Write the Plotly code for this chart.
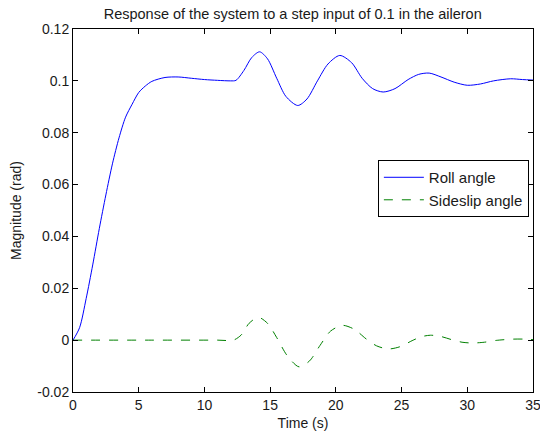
import plotly.graph_objects as go

# Roll angle (rad)
roll_t = [0, 0.5, 1, 1.5, 2, 2.5, 3, 3.5, 4, 4.5, 5, 5.5, 6, 7, 8, 9, 10, 11, 12, 12.4,
          13, 13.6, 14.2, 14.8, 15.5, 16.2, 17.1, 17.8, 18.6, 19.4, 20.3, 21.2, 22.0, 22.8,
          23.6, 24.5, 25.5, 26.3, 27.1, 28, 29, 30, 31, 32, 33.3, 34.2, 35]
roll_v = [0, 0.0048, 0.016, 0.029, 0.043, 0.056, 0.068, 0.078, 0.086, 0.091, 0.0955, 0.098,
          0.0998, 0.1013, 0.1015, 0.101, 0.1005, 0.1002, 0.1, 0.1002, 0.104, 0.109, 0.1112,
          0.1085, 0.101, 0.094, 0.0905, 0.093, 0.1, 0.1065, 0.1098, 0.107, 0.101, 0.097,
          0.0957, 0.097, 0.1005, 0.1025, 0.1030, 0.1015, 0.0995, 0.0983, 0.0988, 0.1,
          0.1008, 0.1005, 0.1003]

# Sideslip angle (rad)
side_t = [0, 6, 11, 12.2, 12.8, 13.4, 14.1, 14.8, 15.5, 16.3, 17.2, 18.0, 18.8, 19.6, 20.5,
          21.4, 22.3, 23.1, 24.0, 24.9, 25.8, 26.5, 27.2, 28.0, 28.8, 29.6, 30.4, 31.3,
          32.2, 33.5, 34.3, 35]
side_v = [0, 0, 0, 0, 0.002, 0.0065, 0.0088, 0.0065, 0.001, -0.006, -0.0103, -0.008, -0.002,
          0.0035, 0.0057, 0.0042, 0.0005, -0.0022, -0.0034, -0.0025, -0.0002, 0.0013, 0.0019,
          0.0014, 0.0002, -0.0008, -0.0011, -0.0008, -0.0001, 0.0004, 0.0004, 0.0002]

x_ticks = [0, 5, 10, 15, 20, 25, 30, 35]
y_ticks = [-0.02, 0, 0.02, 0.04, 0.06, 0.08, 0.1, 0.12]
y_labels = ["-0.02", "0", "0.02", "0.04", "0.06", "0.08", "0.1", "0.12"]

FONT = "Liberation Sans, Arial, sans-serif"
TXT = "#1a1a1a"

fig = go.Figure()
fig.add_trace(go.Scatter(x=roll_t, y=roll_v, mode="lines", name="Roll angle",
                         line=dict(color="#0000ff", width=1, shape="spline", smoothing=0.8)))
fig.add_trace(go.Scatter(x=side_t, y=side_v, mode="lines", name="Sideslip angle",
                         line=dict(color="#008000", width=1, dash="dash", shape="spline",
                                   smoothing=0.8)))

axis_common = dict(showgrid=False, zeroline=False, showline=True, linecolor="#000000",
                   linewidth=1, mirror="ticks", ticks="inside", ticklen=5,
                   tickcolor="#000000", automargin=False, ticklabeloverflow="allow",
                   tickfont=dict(family=FONT, size=14, color=TXT))

fig.update_layout(
    width=540, height=437,
    margin=dict(l=73, r=7, t=29, b=45),
    paper_bgcolor="white", plot_bgcolor="white",
    title=dict(text="Response of the system to a step input of 0.1 in the aileron",
               x=0.542, xanchor="center", y=0.968, yanchor="middle",
               font=dict(family=FONT, size=14.5, color=TXT)),
    xaxis=dict(range=[0, 35], tickvals=x_ticks, ticktext=[str(v) for v in x_ticks],
               title=dict(text="Time (s)", font=dict(family=FONT, size=14, color=TXT),
                          standoff=6),
               **axis_common),
    yaxis=dict(range=[-0.02, 0.12], tickvals=y_ticks, ticktext=y_labels,
               title=dict(text="Magnitude (rad)", font=dict(family=FONT, size=14, color=TXT),
                          standoff=12),
               **axis_common),
    legend=dict(x=0.991, y=0.639, xanchor="right", yanchor="top",
                bgcolor="white", bordercolor="#000000", borderwidth=1,
                font=dict(family=FONT, size=15, color=TXT),
                tracegroupgap=0, itemwidth=40),
    showlegend=True,
)

fig.write_html("out.html")
